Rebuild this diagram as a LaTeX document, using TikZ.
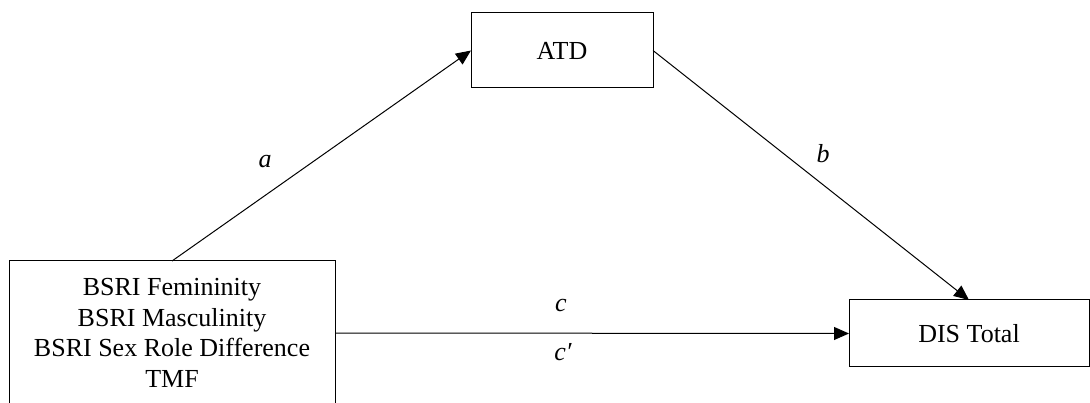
\documentclass[tikz,border=0pt]{standalone}
\usepackage{fontspec}
\setmainfont{Liberation Serif}
\usetikzlibrary{arrows.meta, positioning}

\begin{document}
\begin{tikzpicture}[x=1pt, y=-1pt,
      box/.style={rectangle, draw, line width=1pt, align=center, inner sep=0pt, outer sep=0pt, font=\rmfamily\fontsize{26}{30.7}\selectfont},
      lbl/.style={font=\rmfamily\fontsize{26}{30.7}\selectfont\itshape, inner sep=0pt, anchor=base},
      arr/.style={-{Triangle[length=15pt, width=13pt]}, line width=1pt}]
    \useasboundingbox (0,0) rectangle (1090,403);
    \node[box, minimum width=326pt, minimum height=144pt] (iv) at (172,333) {BSRI Femininity\\BSRI Masculinity\\BSRI Sex Role Difference\\TMF};
    \node[box, minimum width=182pt, minimum height=75pt] (atd) at (562,50.5) {ATD};
    \node[box, minimum width=240pt, minimum height=67pt] (dis) at (969,333.5) {DIS Total};
    \draw[arr] (iv.north) -- (atd.west);
    \draw[arr] (atd.east) -- (dis.north);
    \draw[arr] (iv.east) -- (dis.west);
    % path labels
    \node[lbl] (la) at (265,168) {a};
    \node[lbl] (lb) at (823,163) {b};
    \node[lbl] (lc) at (561,312) {c};
    \node[lbl] (lcp) at (563,360) {c′};
  \end{tikzpicture}
\end{document}
